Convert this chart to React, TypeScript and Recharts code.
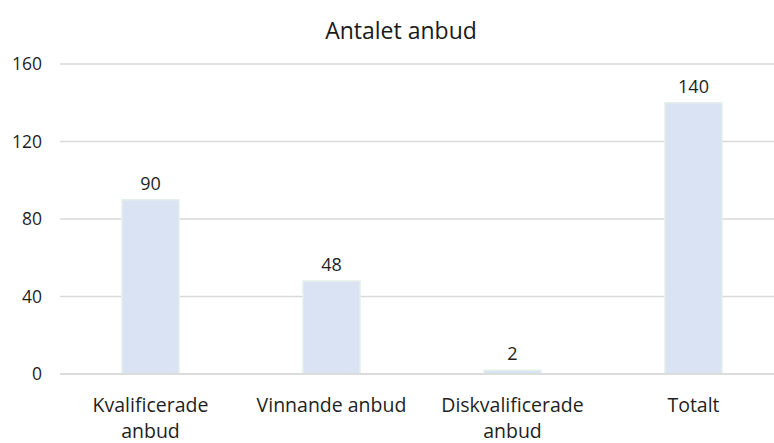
import React from 'react';
import { Bar, BarChart, CartesianGrid, LabelList, XAxis, YAxis } from 'recharts';

const CATEGORIES = ['Kvalificerade anbud', 'Vinnande anbud', 'Diskvalificerade anbud', 'Totalt'];
const CATEGORY_LINES = [['Kvalificerade', 'anbud'], ['Vinnande anbud'], ['Diskvalificerade', 'anbud'], ['Totalt']];
const VALUES = [90, 48, 2, 140];
const Y_TICKS = [0, 40, 80, 120, 160];

const data = CATEGORIES.map((name, i) => ({ name, value: VALUES[i] }));

const FONT = '"Open Sans", Lato, sans-serif';

function CategoryTick({ x, y, index }: { x?: number; y?: number; index?: number }) {
  const lines = CATEGORY_LINES[index ?? 0] ?? [];
  return (
    <text x={x} y={y} textAnchor="middle" fill="#1f1f1f" fontSize={19.5} fontFamily={FONT}>
      {lines.map((line, i) => (
        <tspan key={i} x={x} dy={i === 0 ? 30 : 26}>
          {line}
        </tspan>
      ))}
    </text>
  );
}

export default function App() {
  return (
    <div style={{ position: 'fixed', top: 0, left: 0, width: 774, height: 443, overflow: 'hidden', background: '#fff' }}>
      <div
        style={{
          position: 'absolute',
          top: 14,
          left: 251,
          width: 300,
          textAlign: 'center',
          fontFamily: FONT,
          fontSize: 23,
          color: '#1a1a1a',
        }}
      >
        Antalet anbud
      </div>
      <BarChart
        width={774}
        height={443}
        data={data}
        margin={{ top: 64, right: 0, left: 0, bottom: 9 }}
        barCategoryGap={0}
      >
        <CartesianGrid vertical={false} stroke="#d9d9d9" strokeWidth={1.5} />
        <XAxis
          dataKey="name"
          height={60}
          tickLine={false}
          axisLine={{ stroke: '#d9d9d9', strokeWidth: 1.5 }}
          interval={0}
          padding={{ left: 0, right: -10 }}
          tick={<CategoryTick />}
        />
        <YAxis
          width={60}
          domain={[0, 160]}
          ticks={Y_TICKS}
          axisLine={false}
          tickLine={false}
          tickMargin={12}
          tick={{ fontSize: 17.5, fill: '#1f1f1f', fontFamily: FONT }}
        />
        <Bar dataKey="value" barSize={57} fill="#dae3f3" stroke="#e4efe9" strokeWidth={1.5} isAnimationActive={false}>
          <LabelList dataKey="value" position="top" offset={10} fontSize={18} fill="#1f1f1f" fontFamily={FONT} />
        </Bar>
      </BarChart>
    </div>
  );
}
